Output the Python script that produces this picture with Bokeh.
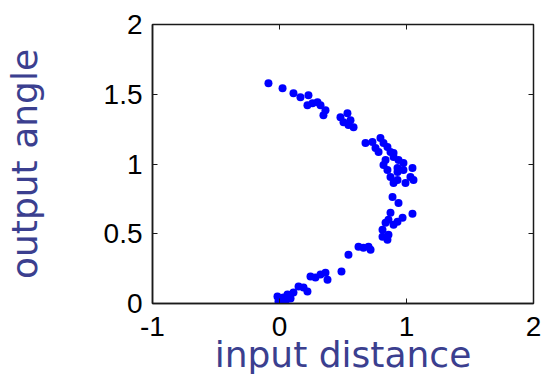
from bokeh.plotting import figure
from bokeh.models import Range1d, FixedTicker, LinearAxis
from bokeh.embed import file_html
from bokeh.resources import INLINE

# data
input_distance = [
    -0.087, 0.024, 0.110, 0.165, 0.228, 0.220, 0.260, 0.299, 0.323, 0.362,
    0.346, 0.480, 0.535, 0.559, 0.504, 0.583, 0.543, 0.677, 0.732, 0.795,
    0.819, 0.850, 0.756, 0.780, 0.874, 0.898, 0.937, 0.819, 0.850, 0.929,
    0.976, 1.047, 1.031, 0.874, 0.898, 1.055, 0.929, 0.992, 0.890, 0.937,
    0.929, 0.976, 0.898, 0.835,
    1.047, 0.969, 0.929, 0.898, 0.874, 0.858, 0.835, 0.811, 0.811, 0.850,
    0.858, 0.717, 0.701, 0.661, 0.622, 0.543, 0.488, 0.378, 0.362, 0.283,
    0.244, 0.220, 0.189, 0.150, 0.110, 0.063, 0.031, -0.016, -0.008, 0.047,
    0.087, 0.323,
]
output_angle = [
    1.579, 1.543, 1.507, 1.479, 1.493, 1.421, 1.436, 1.443, 1.421, 1.386,
    1.350, 1.336, 1.364, 1.314, 1.300, 1.264, 1.279, 1.150, 1.157, 1.186,
    1.150, 1.121, 1.114, 1.086, 1.086, 1.050, 1.029, 0.993, 0.957, 0.971,
    0.957, 0.971, 0.907, 0.907, 0.864, 0.886, 0.943, 0.864, 0.764, 0.721,
    0.886, 1.007, 1.079, 1.029,
    0.643, 0.614, 0.586, 0.564, 0.650, 0.600, 0.579, 0.529, 0.479, 0.457,
    0.493, 0.386, 0.407, 0.400, 0.407, 0.350, 0.229, 0.171, 0.221, 0.186,
    0.193, 0.086, 0.114, 0.121, 0.079, 0.064, 0.043, 0.050, 0.014, 0.014,
    0.036, 0.207,
]
x_ticks = [-1, 0, 1, 2]
x_tick_labels = ["-1", "0", "1", "2"]
y_ticks = [0, 0.5, 1, 1.5, 2]
y_tick_labels = ["0", "0.5", "1", "1.5", "2"]

label_color = "#3b3f8f"
label_font = "DejaVu Sans"
tick_font = "Liberation Sans"

p = figure(width=541, height=377, output_backend="svg", toolbar_location=None,
           x_range=Range1d(-1, 2), y_range=Range1d(0, 2),
           min_border_left=152, min_border_top=24, min_border_bottom=73,
           min_border_right=8)
p.grid.visible = False
p.outline_line_color = "#1a1a1a"
p.outline_line_width = 1.5

p.scatter(input_distance, output_angle, size=8, color="#0000ff", line_color=None)

p.xaxis.ticker = FixedTicker(ticks=x_ticks)
p.yaxis.ticker = FixedTicker(ticks=y_ticks)
p.xaxis.major_label_overrides = dict(zip(x_ticks, x_tick_labels))
p.yaxis.major_label_overrides = dict(zip(y_ticks, y_tick_labels))

for ax in (p.xaxis[0], p.yaxis[0]):
    ax.major_tick_in = 5
    ax.major_tick_out = 0
    ax.minor_tick_line_color = None
    ax.axis_line_color = "#1a1a1a"
    ax.axis_line_width = 1.5
    ax.major_tick_line_color = "#1a1a1a"
    ax.major_label_text_font = tick_font
    ax.major_label_text_font_size = "28px"
    ax.major_label_text_color = "black"
    ax.axis_label_text_font = label_font
    ax.axis_label_text_font_size = "36px"
    ax.axis_label_text_font_style = "normal"
    ax.axis_label_text_color = label_color

p.xaxis.axis_label = "input distance"
p.yaxis.axis_label = "output angle"
p.xaxis.major_label_standoff = 13
p.yaxis.major_label_standoff = 10
p.xaxis.axis_label_standoff = -5
p.yaxis.axis_label_standoff = 56

right = LinearAxis(ticker=FixedTicker(ticks=y_ticks),
                   major_label_overrides={t: "" for t in y_ticks},
                   major_label_text_color=None, major_label_standoff=0,
                   major_tick_in=5, major_tick_out=0, minor_tick_line_color=None,
                   axis_line_color=None, major_tick_line_color="#1a1a1a")
top = LinearAxis(ticker=FixedTicker(ticks=x_ticks),
                 major_label_overrides={t: "" for t in x_ticks},
                 major_label_text_color=None, major_label_standoff=0,
                 major_tick_in=5, major_tick_out=0, minor_tick_line_color=None,
                 axis_line_color=None, major_tick_line_color="#1a1a1a")
p.add_layout(right, "right")
p.add_layout(top, "above")

open("out.html", "w").write(file_html(p, INLINE))
